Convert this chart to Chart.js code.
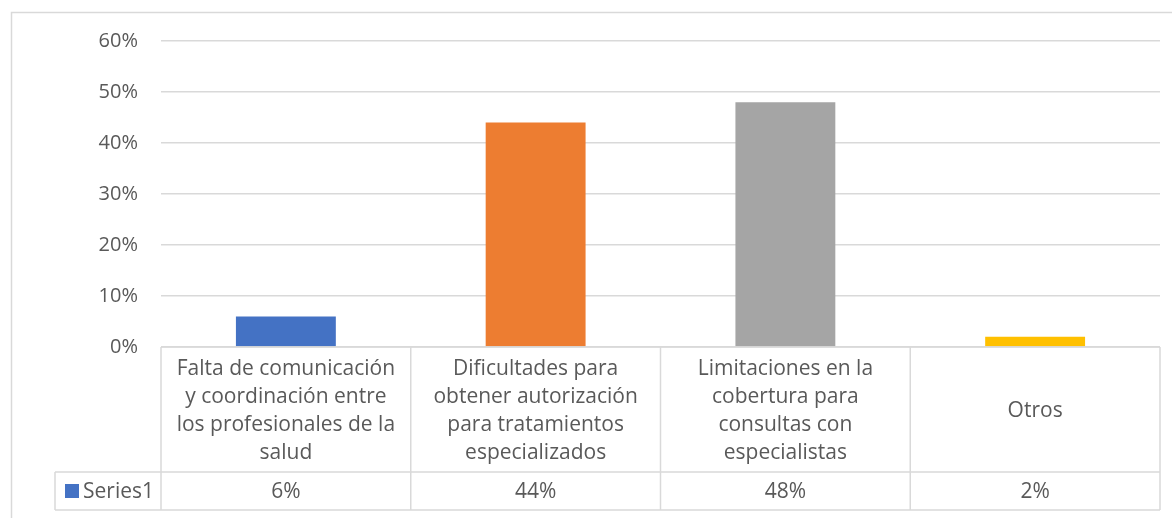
<!DOCTYPE html>
<html>
<head>
<meta charset="utf-8">
<script src="https://cdn.jsdelivr.net/npm/chart.js@4"></script>
<style>
  html, body { margin: 0; padding: 0; background: #fff; }
  #wrap { width: 1172px; height: 518px; }
</style>
</head>
<body>
<div id="wrap"><canvas id="chart" width="1172" height="518"></canvas></div>
<script>
const categories = [
  ['Falta de comunicación', 'y coordinación entre', 'los profesionales de la', 'salud'],
  ['Dificultades para', 'obtener autorización', 'para tratamientos', 'especializados'],
  ['Limitaciones en la', 'cobertura para', 'consultas con', 'especialistas'],
  ['Otros']
];
const seriesName = 'Series1';
const values = [6, 44, 48, 2];
const barColors = ['#4472C4', '#ED7D31', '#A5A5A5', '#FFC000'];

const FONT = '"Open Sans", sans-serif';
const TEXT = '#595959';
const LINE = '#d9d9d9';

// draws the frame and the data table under the plot (Excel style)
const dataTable = {
  id: 'dataTable',
  beforeDraw(chart) {
    const c = chart.ctx;
    c.save();
    c.strokeStyle = LINE;
    c.lineWidth = 1.5;
    c.beginPath();
    c.moveTo(11.5, 518);
    c.lineTo(11.5, 12.5);
    c.lineTo(1172, 12.5);
    c.stroke();
    c.restore();
  },
  afterDraw(chart) {
    const c = chart.ctx;
    const x = chart.scales.x;
    const area = chart.chartArea;
    const top = area.bottom;
    const rowSplit = 472;
    const bottom = 510;
    const legendLeft = 55;
    const step = (area.right - area.left) / categories.length;

    c.save();
    c.strokeStyle = LINE;
    c.lineWidth = 1.5;
    c.beginPath();
    // horizontal lines
    c.moveTo(area.left, top); c.lineTo(area.right, top);
    c.moveTo(legendLeft, rowSplit); c.lineTo(area.right, rowSplit);
    c.moveTo(legendLeft, bottom); c.lineTo(area.right, bottom);
    // vertical lines
    c.moveTo(legendLeft, rowSplit); c.lineTo(legendLeft, bottom);
    for (let i = 0; i <= categories.length; i++) {
      const vx = area.left + step * i;
      c.moveTo(vx, top); c.lineTo(vx, bottom);
    }
    c.stroke();

    c.fillStyle = TEXT;
    c.font = '21px ' + FONT;
    c.textAlign = 'center';
    c.textBaseline = 'middle';
    const lh = 28;
    const mid = (top + rowSplit) / 2 + 2;
    categories.forEach((lines, i) => {
      const cx = x.getPixelForValue(i);
      const y0 = mid - (lines.length - 1) * lh / 2;
      lines.forEach((t, j) => c.fillText(t, cx, y0 + j * lh));
      c.fillText(values[i] + '%', cx, (rowSplit + bottom) / 2 + 1);
    });

    // legend key
    c.fillStyle = barColors[0];
    c.fillRect(65, 484, 14, 14);
    c.fillStyle = TEXT;
    c.textAlign = 'left';
    c.fillText(seriesName, 83, (rowSplit + bottom) / 2 + 1);
    c.restore();
  }
};

new Chart(document.getElementById('chart'), {
  type: 'bar',
  data: {
    labels: categories.map(l => l.join(' ')),
    datasets: [{
      label: seriesName,
      data: values,
      backgroundColor: barColors,
      borderWidth: 0,
      categoryPercentage: 1,
      barPercentage: 0.4
    }]
  },
  options: {
    responsive: false,
    animation: false,
    layout: { padding: { top: 41, bottom: 171, right: 12, left: 0 } },
    plugins: { legend: { display: false }, tooltip: { enabled: false } },
    scales: {
      x: { display: false },
      y: {
        min: 0,
        max: 60,
        afterFit(scale) { scale.width = 161; },
        border: { display: false },
        grid: { color: LINE, lineWidth: 1.5, drawTicks: false },
        ticks: {
          stepSize: 10,
          padding: 23,
          color: TEXT,
          font: { family: FONT, size: 20 },
          callback: v => v + '%'
        }
      }
    }
  },
  plugins: [dataTable]
});
</script>
</body>
</html>
